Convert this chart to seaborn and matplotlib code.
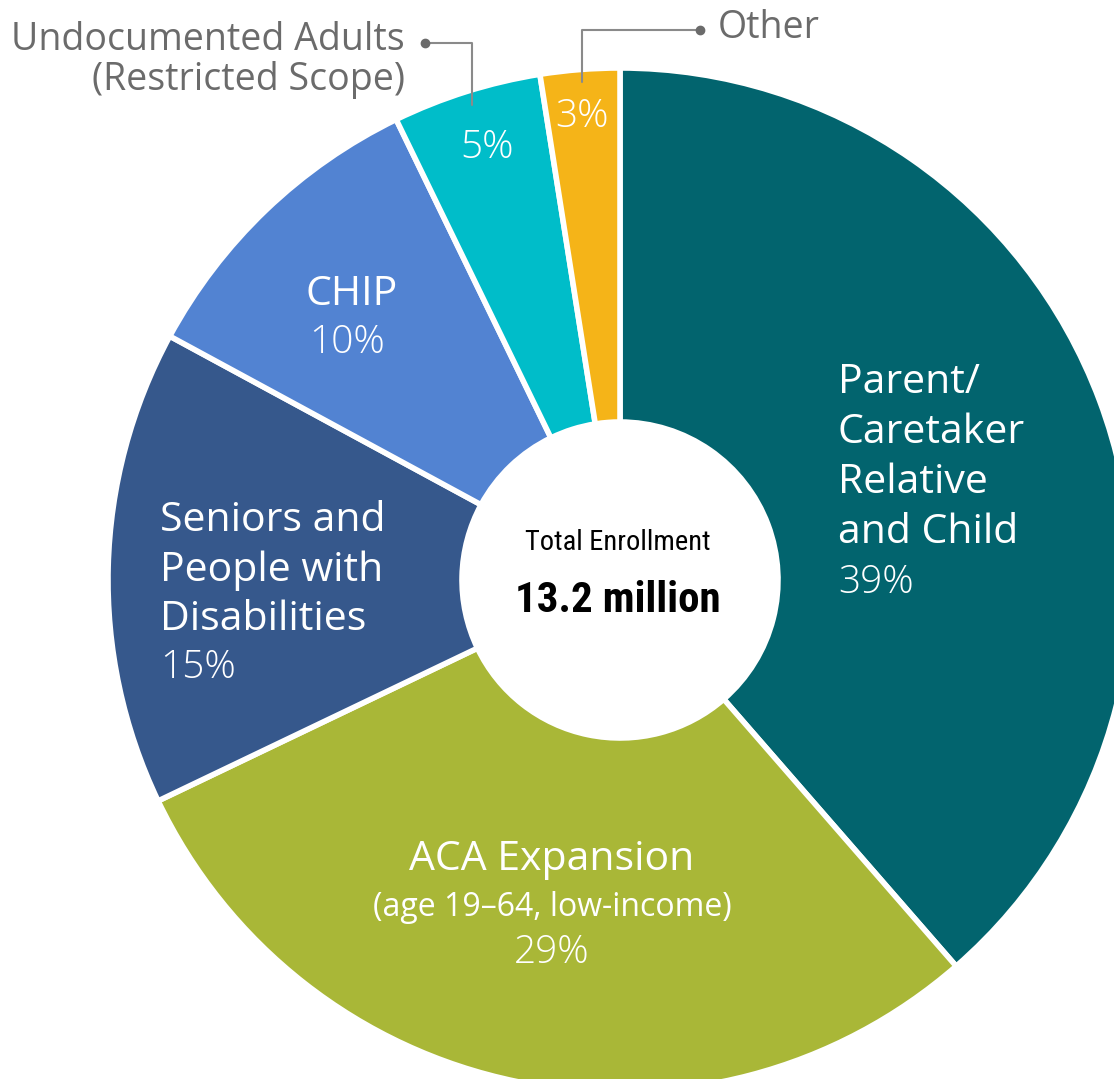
import matplotlib
matplotlib.use("Agg")
import matplotlib.pyplot as plt
import seaborn as sns

# enrollment shares (%), clockwise from 12 o'clock; labels are the rounded figures
groups = ["Parent/Caretaker Relative and Child", "ACA Expansion",
          "Seniors and People with Disabilities", "CHIP",
          "Undocumented Adults (Restricted Scope)", "Other"]
shares = [38.6, 29.3, 15.0, 9.9, 4.7, 2.5]
pct_labels = ["39%", "29%", "15%", "10%", "5%", "3%"]
hex_colors = ["#02646e", "#a9b737", "#36588c", "#5283d2", "#00bdc9", "#f5b418"]

total_label = "13.2 million"

sns.set_theme(style="white")
plt.rcParams["font.family"] = ["Open Sans", "DejaVu Sans"]

W, H = 1114, 1079
fig = plt.figure(figsize=(W / 100, H / 100), dpi=100)
ax = fig.add_axes([0, 0, 1, 1])

def Y(y):
    # pixel row from top -> data y
    return H - y

R = 512
hole = 158
cx, cy = 620, 580
palette = sns.color_palette(hex_colors)
ax.pie(shares, colors=palette, startangle=90, counterclock=False,
       radius=R, center=(cx, Y(cy)),
       wedgeprops=dict(width=R - hole, edgecolor="white", linewidth=4))
ax.set_xlim(0, W)
ax.set_ylim(0, H)
ax.set_aspect("equal")
ax.axis("off")

white = "white"
big = 29.5
pct = 28

# Parent / Caretaker
for i, line in enumerate(["Parent/", "Caretaker", "Relative", "and Child"]):
    ax.text(838, Y(383 + 50 * i), line, color=white, fontsize=big, ha="left", va="center")
ax.text(838, Y(583), pct_labels[0], color=white, fontsize=pct, ha="left",
        va="center", fontweight="light")

# ACA
ax.text(552, Y(860), "ACA Expansion", color=white, fontsize=big, ha="center", va="center")
ax.text(552, Y(908), "(age 19\u201364, low-income)", color=white, fontsize=23,
        ha="center", va="center")
ax.text(552, Y(953), pct_labels[1], color=white, fontsize=pct, ha="center",
        va="center", fontweight="light")

# Seniors
for i, line in enumerate(["Seniors and", "People with", "Disabilities"]):
    ax.text(160, Y(521 + 49.5 * i), line, color=white, fontsize=big, ha="left", va="center")
ax.text(160, Y(668), pct_labels[2], color=white, fontsize=pct, ha="left",
        va="center", fontweight="light")

# CHIP
ax.text(352, Y(295), "CHIP", color=white, fontsize=big, ha="center", va="center")
ax.text(347, Y(343), pct_labels[3], color=white, fontsize=pct, ha="center",
        va="center", fontweight="light")

# small slices
ax.text(487, Y(148), pct_labels[4], color=white, fontsize=pct, ha="center",
        va="center", fontweight="light")
ax.text(582, Y(117), pct_labels[5], color=white, fontsize=pct, ha="center",
        va="center", fontweight="light")

# callouts
gray = "#6b6b6b"
ax.text(405, Y(40), "Undocumented Adults", color=gray, fontsize=27, ha="right", va="center")
ax.text(405, Y(80), "(Restricted Scope)", color=gray, fontsize=27, ha="right", va="center")
ax.plot([425, 472, 472], [Y(43), Y(43), Y(105)], color="#8a8a8a", lw=1.5)
ax.plot([425], [Y(43)], "o", color=gray, ms=6)
ax.text(718, Y(28), "Other", color=gray, fontsize=27, ha="left", va="center")
ax.plot([700, 582, 582], [Y(30), Y(30), Y(82)], color="#8a8a8a", lw=1.5)
ax.plot([700], [Y(30)], "o", color=gray, ms=6)

# center
cond = ["Roboto Condensed", "Open Sans Condensed", "Liberation Sans Narrow", "DejaVu Sans"]
ax.text(618, Y(543), "Total Enrollment", color="black", fontsize=20.5,
        family=cond, stretch="condensed", ha="center", va="center")
ax.text(618, Y(600), total_label, color="black", fontsize=31, family=cond,
        stretch="condensed", fontweight="bold", ha="center", va="center")

fig.savefig("out.png", dpi=100, facecolor="white")
